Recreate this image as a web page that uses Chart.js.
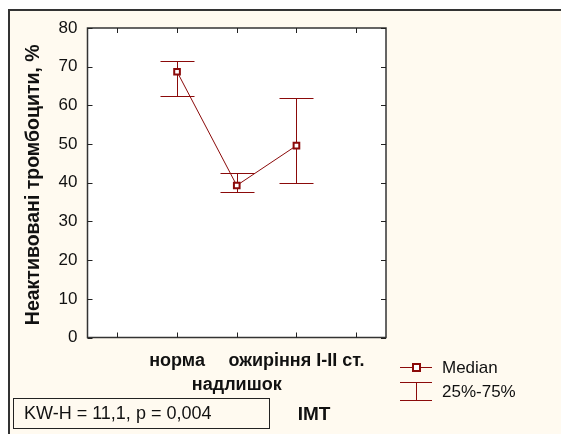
<!DOCTYPE html>
<html>
<head>
<meta charset="utf-8">
<script src="https://cdn.jsdelivr.net/npm/chart.js@4"></script>
<style>
  html, body { margin: 0; padding: 0; background: #fff; }
  #wrap { width: 561px; height: 434px; }
</style>
</head>
<body>
<div id="wrap"><canvas id="imtChart" width="561" height="434"></canvas></div>
<script>
// --- data ---
const categories   = ['', 'норма', ['', 'надлишок'], 'ожиріння I-II ст.', ''];
const medianValues = [null, 68.7, 39.3, 49.6, null];
const q25Values    = [null, 62.5, 37.5, 40.0, null];
const q75Values    = [null, 71.5, 42.5, 62.0, null];
const yTickValues  = [0, 10, 20, 30, 40, 50, 60, 70, 80];

const yTitle    = 'Неактивовані тромбоцити, %';
const xTitle    = 'IMT';
const statsText = 'KW-H = 11,1, p = 0,004';
const legendMedian = 'Median';
const legendRange  = '25%-75%';

const RED   = '#8b0a0a';
const CREAM = '#fffaf0';
const FONT  = 'Arial, "Liberation Sans", sans-serif';

// background, frame and plot box with inward ticks
const framePlugin = {
    id: 'frame',
    beforeDraw(chart) {
        const { ctx, chartArea: a } = chart;
        ctx.save();
        ctx.fillStyle = '#fff';
        ctx.fillRect(0, 0, chart.width, chart.height);
        ctx.fillStyle = CREAM;
        ctx.fillRect(8, 9, chart.width - 8, chart.height - 9);
        ctx.strokeStyle = '#333';
        ctx.lineWidth = 2;
        ctx.beginPath();
        ctx.moveTo(9, chart.height);
        ctx.lineTo(9, 10);
        ctx.lineTo(chart.width, 10);
        ctx.stroke();
        ctx.fillStyle = '#fff';
        ctx.fillRect(a.left, a.top, a.right - a.left, a.bottom - a.top);
        ctx.restore();
    },
    afterDraw(chart) {
        const { ctx, chartArea: a, scales } = chart;
        ctx.save();
        ctx.strokeStyle = '#333';
        ctx.lineWidth = 1.5;
        ctx.strokeRect(a.left, a.top, a.right - a.left, a.bottom - a.top);
        ctx.lineWidth = 1;
        ctx.strokeStyle = '#222';
        ctx.beginPath();
        yTickValues.forEach(v => {
            const y = Math.round(scales.y.getPixelForValue(v)) + 0.5;
            ctx.moveTo(a.left, y);  ctx.lineTo(a.left + 5, y);
            ctx.moveTo(a.right, y); ctx.lineTo(a.right - 5, y);
        });
        categories.forEach((c, i) => {
            const x = Math.round(scales.x.getPixelForValue(i)) + 0.5;
            ctx.moveTo(x, a.bottom); ctx.lineTo(x, a.bottom - 5);
            ctx.moveTo(x, a.top);    ctx.lineTo(x, a.top + 5);
        });
        ctx.stroke();

        // y title
        ctx.fillStyle = '#111';
        ctx.font = 'bold 19.5px ' + FONT;
        ctx.textAlign = 'center';
        ctx.textBaseline = 'middle';
        ctx.save();
        ctx.translate(34, (a.top + a.bottom) / 2 + 2);
        ctx.rotate(-Math.PI / 2);
        ctx.fillText(yTitle, 0, 0);
        ctx.restore();

        // x title
        ctx.font = 'bold 19px ' + FONT;
        ctx.fillText(xTitle, 314, 415);

        // stats box
        ctx.strokeStyle = '#222';
        ctx.lineWidth = 1;
        ctx.strokeRect(13.5, 398.5, 256, 30);
        ctx.font = '18px ' + FONT;
        ctx.textAlign = 'left';
        ctx.fillText(statsText, 24, 414);

        // legend
        ctx.strokeStyle = RED;
        ctx.beginPath();
        ctx.moveTo(400, 367.5); ctx.lineTo(432, 367.5);
        ctx.moveTo(400, 382.5); ctx.lineTo(432, 382.5);
        ctx.moveTo(400, 400.5); ctx.lineTo(432, 400.5);
        ctx.moveTo(416.5, 382.5); ctx.lineTo(416.5, 400.5);
        ctx.stroke();
        ctx.fillStyle = '#fff';
        ctx.lineWidth = 2;
        ctx.fillRect(413, 364, 7, 7);
        ctx.strokeRect(413, 364, 7, 7);
        ctx.fillStyle = '#111';
        ctx.font = '17px ' + FONT;
        ctx.fillText(legendMedian, 442, 368);
        ctx.fillText(legendRange, 442, 392);
        ctx.restore();
    }
};

// 25%-75% whiskers drawn under the median markers
const rangePlugin = {
    id: 'range',
    beforeDatasetsDraw(chart) {
        const { ctx, scales } = chart;
        ctx.save();
        ctx.strokeStyle = RED;
        ctx.lineWidth = 1;
        ctx.beginPath();
        q25Values.forEach((lo, i) => {
            if (lo == null) return;
            const x  = Math.round(scales.x.getPixelForValue(i)) + 0.5;
            const y1 = Math.round(scales.y.getPixelForValue(lo)) + 0.5;
            const y2 = Math.round(scales.y.getPixelForValue(q75Values[i])) + 0.5;
            ctx.moveTo(x, y1); ctx.lineTo(x, y2);
            ctx.moveTo(x - 17, y1); ctx.lineTo(x + 17, y1);
            ctx.moveTo(x - 17, y2); ctx.lineTo(x + 17, y2);
        });
        ctx.stroke();
        ctx.restore();
    }
};

new Chart(document.getElementById('imtChart'), {
    type: 'line',
    data: {
        labels: categories,
        datasets: [{
            label: legendMedian,
            data: medianValues,
            borderColor: RED,
            borderWidth: 1,
            pointStyle: 'rect',
            pointRadius: 4,
            pointBorderWidth: 2,
            pointBackgroundColor: '#fff',
            pointBorderColor: RED,
            tension: 0,
            spanGaps: false,
        }],
    },
    options: {
        responsive: false,
        animation: false,
        layout: { padding: { left: 0, top: 28, right: 175, bottom: 0 } },
        plugins: { legend: { display: false }, tooltip: { enabled: false } },
        scales: {
            x: {
                offset: true,
                grid: { display: false, drawTicks: false },
                border: { display: false },
                ticks: {
                    autoSkip: false, maxRotation: 0, minRotation: 0,
                    padding: 11, color: '#111',
                    font: { family: FONT, size: 18, weight: 'bold', lineHeight: 1.35 },
                },
                afterFit: s => { s.height = 96.5; },
            },
            y: {
                min: 0, max: 80,
                grid: { display: false, drawTicks: false },
                border: { display: false },
                ticks: {
                    stepSize: 10, padding: 10, color: '#111',
                    font: { family: FONT, size: 17 },
                },
                afterFit: s => { s.width = 87.5; },
            },
        },
    },
    plugins: [framePlugin, rangePlugin],
});
</script>
</body>
</html>
